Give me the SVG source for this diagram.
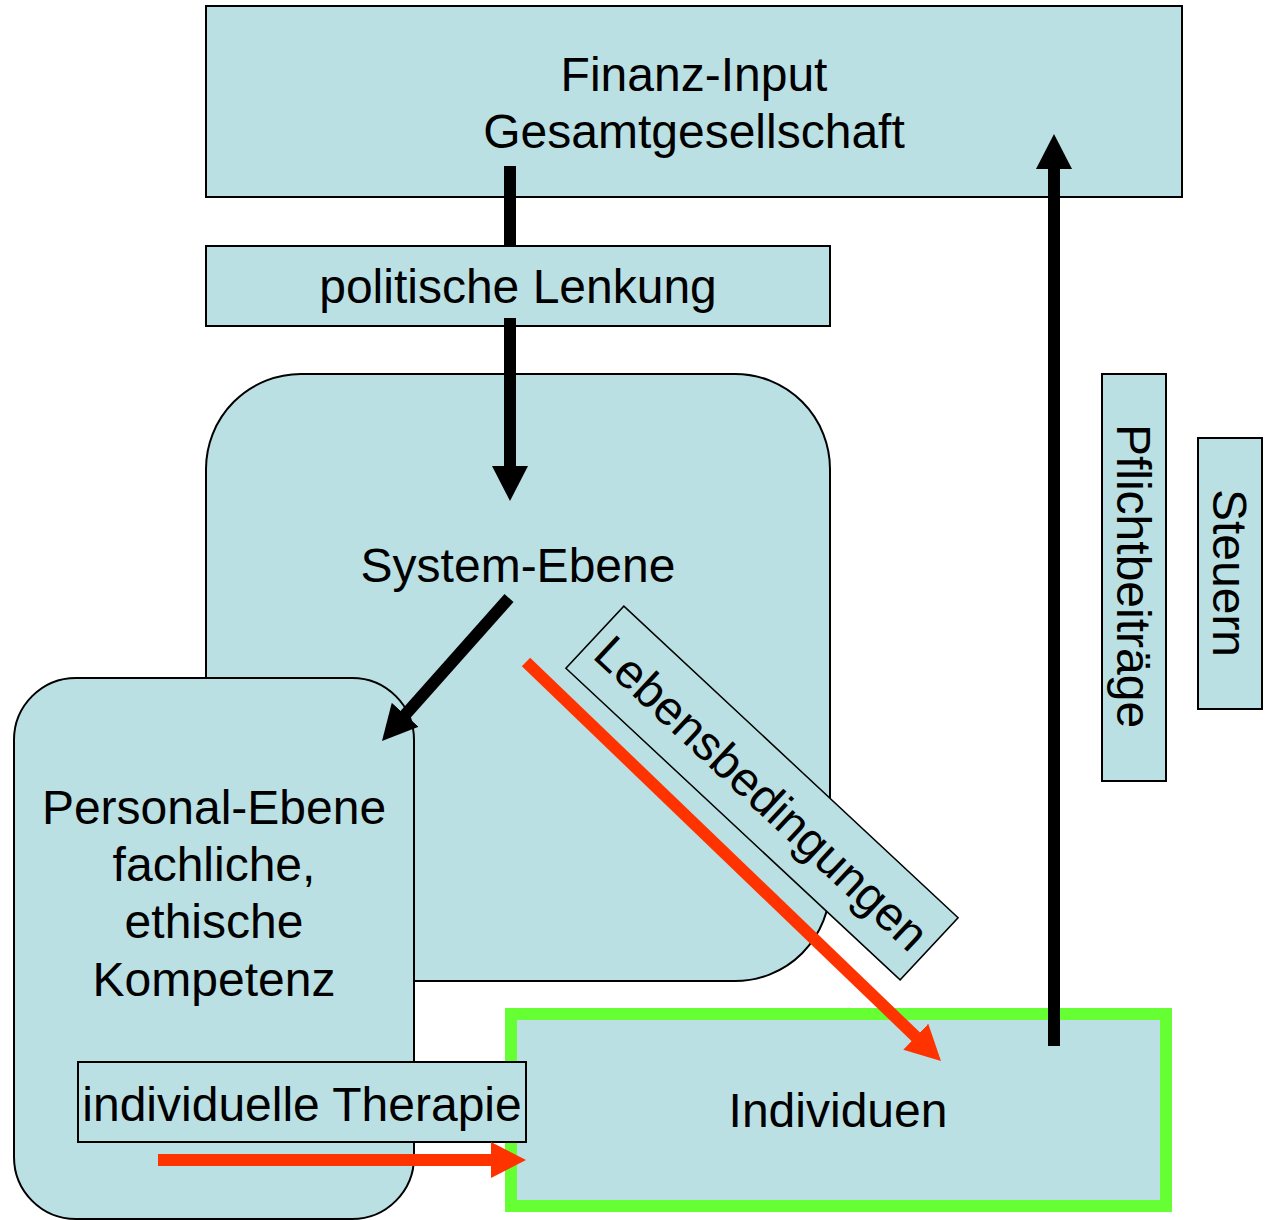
<svg xmlns="http://www.w3.org/2000/svg" width="1268" height="1220" viewBox="0 0 1268 1220">
<style>
.box{fill:#BBE0E3;stroke:#000;stroke-width:2}
.thin{fill:#BBE0E3;stroke:#000;stroke-width:1.5}
.ind{fill:#BBE0E3;stroke:#66FF33;stroke-width:12}
text{font-family:"Liberation Sans",Arial,sans-serif;font-size:48px;fill:#000;text-anchor:middle}
.blk{stroke:#000;stroke-width:12;fill:none}
.red{stroke:#FF3300;stroke-width:12;fill:none}
</style>
<defs>
<marker id="hb" viewBox="0 0 35 36" refX="2" refY="18" markerWidth="35" markerHeight="36" markerUnits="userSpaceOnUse" orient="auto"><path d="M0,0 L35,18 L0,36 z" fill="#000"/></marker>
<marker id="hr" viewBox="0 0 35 36" refX="2" refY="18" markerWidth="35" markerHeight="36" markerUnits="userSpaceOnUse" orient="auto"><path d="M0,0 L35,18 L0,36 z" fill="#FF3300"/></marker>
</defs>
<rect width="1268" height="1220" fill="#fff"/>
<g id="finanz"><rect class="box" x="206" y="6" width="976" height="191"/><text x="694" y="91">Finanz-Input</text><text x="694" y="148">Gesamtgesellschaft</text></g>
<g id="politik"><rect class="box" x="206" y="246" width="624" height="80"/><text x="518" y="303">politische Lenkung</text></g>
<g id="system"><rect class="box" x="206" y="374" width="624" height="607" rx="95" ry="95"/><text x="518" y="582">System-Ebene</text></g>
<g id="personal"><rect class="box" x="14" y="678" width="400" height="541" rx="62" ry="62"/><text x="214" y="824">Personal-Ebene</text><text x="214" y="881">fachliche,</text><text x="214" y="938">ethische</text><text x="214" y="996">Kompetenz</text></g>
<g id="lebens" transform="translate(762,793) rotate(43)"><rect class="thin" x="-228.5" y="-42.5" width="457" height="85"/><text x="0" y="17">Lebensbedingungen</text></g>
<g id="individuen"><rect class="ind" x="511" y="1014" width="655" height="192"/><text x="838" y="1127">Individuen</text></g>
<g id="therapie"><rect class="box" x="78" y="1062" width="448" height="80"/><text x="302" y="1121">individuelle Therapie</text></g>
<g id="pflicht"><rect class="box" x="1102" y="374" width="64" height="407"/><text transform="translate(1134,576) rotate(90)" x="0" y="17">Pflichtbeiträge</text></g>
<g id="steuern"><rect class="box" x="1198" y="438" width="64" height="271"/><text transform="translate(1230,573) rotate(90)" x="0" y="17">Steuern</text></g>
<g id="connectors">
<line class="blk" x1="510" y1="166" x2="510" y2="246"/>
<line class="blk" x1="510" y1="318" x2="510" y2="468" marker-end="url(#hb)"/>
<line class="blk" x1="1054" y1="1046" x2="1054" y2="167" marker-end="url(#hb)"/>
<line class="blk" x1="509" y1="598" x2="403.9" y2="716.3" marker-end="url(#hb)"/>
<line class="red" x1="526" y1="662" x2="917.2" y2="1038.1" marker-end="url(#hr)"/>
<line class="red" x1="158" y1="1160" x2="493" y2="1160" marker-end="url(#hr)"/>
</g>
</svg>
